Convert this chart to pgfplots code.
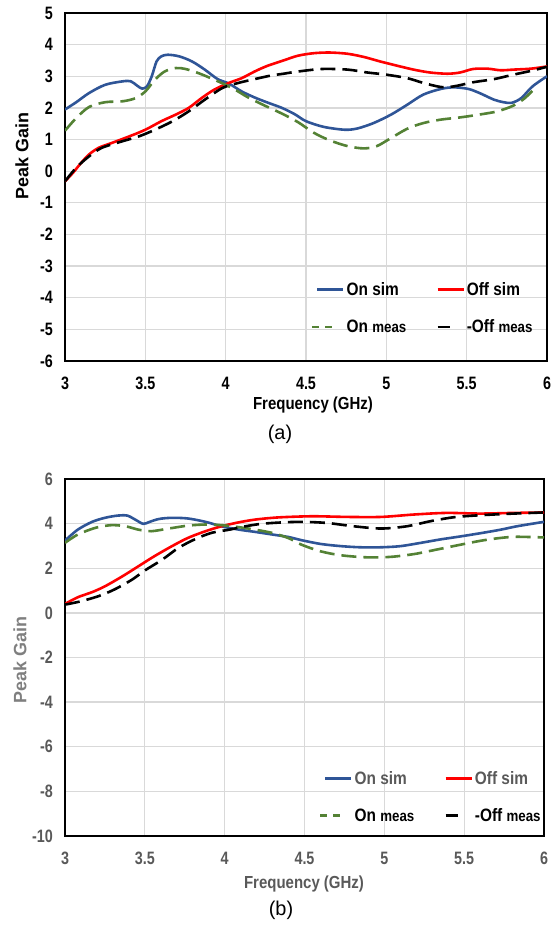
\documentclass[border=0pt]{standalone}
\usepackage{pgfplots}
\pgfplotsset{compat=1.18}
\usepackage{fontspec}
\setmainfont{Liberation Sans}
\newfontfamily\nb[FakeStretch=0.86]{Liberation Sans}
\newfontfamily\nn[FakeStretch=0.8]{Liberation Sans}
\definecolor{cblue}{HTML}{2F5597}
\definecolor{cred}{HTML}{FF0000}
\definecolor{cgreen}{HTML}{548235}
\definecolor{cgray}{HTML}{595959}
\definecolor{cgray2}{HTML}{7F7F7F}
\definecolor{gridc}{HTML}{D9D9D9}

\pgfplotsset{
 common/.style={
  scale only axis,
  xmin=3, xmax=6,
  xtick={3,3.5,4,4.5,5,5.5,6},
  grid=major,
  major grid style={gridc, line width=1.3bp},
  major tick length=0pt,
  axis line style={black, line width=1.6bp},
  /pgf/number format/assume math mode=true,
  ticklabel style={font=\nn\bfseries\fontsize{18}{18}\selectfont, inner sep=0pt},
  xticklabel style={yshift=-16bp},
  yticklabel style={xshift=-12bp},
  legend cell align=left,
  legend columns=2,
  legend style={draw=none, fill=none, inner sep=0pt,
    font=\nb\bfseries\fontsize{18}{18}\selectfont,
    row sep=19bp,
    /tikz/every even column/.append style={column sep=28bp}},
 },
 lin/.style={line width=2.6bp, smooth, tension=0.5},
 dsh/.style={dash pattern=on 15bp off 7bp},
}

\begin{document}
\begin{tikzpicture}
\path[use as bounding box] (0bp,0bp) rectangle (558bp,926bp);

% ---------- (a) ----------
\begin{axis}[common,
  at={(65bp,565bp)}, anchor=south west,
  width=482bp, height=348bp,
  ymin=-6, ymax=5, ytick={-6,-5,...,5},
  legend style={at={(rel axis cs:0.51,0.232)}, anchor=north west},
]
\addplot[lin, cblue, legend image code/.code={\draw[cblue, line width=2.6bp] (0,0)--(26bp,0);}] coordinates {
(3.0,1.95)(3.07,2.18)(3.15,2.47)(3.25,2.73)(3.36,2.84)(3.41,2.84)(3.45,2.70)(3.48,2.61)(3.51,2.68)(3.54,3.0)(3.57,3.47)(3.60,3.63)(3.64,3.68)(3.71,3.63)(3.79,3.47)(3.87,3.21)(3.95,2.91)(4.02,2.77)(4.10,2.52)(4.18,2.33)(4.26,2.17)(4.35,2.0)(4.43,1.8)(4.5,1.58)(4.61,1.40)(4.74,1.31)(4.82,1.35)(4.92,1.52)(5.03,1.79)(5.13,2.10)(5.23,2.42)(5.34,2.60)(5.42,2.65)(5.51,2.60)(5.58,2.47)(5.67,2.26)(5.73,2.18)(5.78,2.16)(5.84,2.31)(5.91,2.68)(6.0,3.0)};
\addlegendentry{On sim}
\addplot[lin, cred, legend image code/.code={\draw[cred, line width=2.6bp] (0,0)--(26bp,0);}] coordinates {
(3.0,-0.32)(3.05,-0.05)(3.10,0.26)(3.15,0.53)(3.21,0.74)(3.29,0.89)(3.40,1.10)(3.50,1.31)(3.60,1.58)(3.69,1.79)(3.77,2.00)(3.85,2.31)(3.93,2.58)(4.02,2.79)(4.10,2.94)(4.18,3.15)(4.26,3.33)(4.36,3.50)(4.45,3.65)(4.55,3.73)(4.65,3.75)(4.76,3.71)(4.86,3.61)(4.96,3.47)(5.07,3.33)(5.17,3.21)(5.27,3.12)(5.38,3.08)(5.46,3.12)(5.54,3.23)(5.63,3.24)(5.71,3.19)(5.79,3.21)(5.9,3.24)(6.0,3.31)};
\addlegendentry{Off sim}
\addplot[lin, dsh, cgreen, legend image code/.code={\draw[cgreen, line width=2.6bp, dash pattern=on 7bp off 6bp] (-5bp,0)--(15bp,0);}] coordinates {
(3.0,1.28)(3.07,1.68)(3.15,2.03)(3.25,2.18)(3.36,2.21)(3.44,2.31)(3.50,2.52)(3.56,2.89)(3.62,3.15)(3.69,3.26)(3.75,3.23)(3.83,3.10)(3.93,2.89)(4.04,2.63)(4.14,2.33)(4.24,2.08)(4.35,1.82)(4.45,1.55)(4.55,1.21)(4.65,0.97)(4.76,0.79)(4.86,0.72)(4.94,0.79)(5.03,1.05)(5.13,1.34)(5.23,1.52)(5.34,1.63)(5.46,1.70)(5.58,1.79)(5.69,1.89)(5.79,2.07)(5.86,2.3)(5.92,2.6)};
\addlegendentry{On {\fontsize{15.5}{15.5}\selectfont meas}}
\addplot[lin, dsh, black, legend image code/.code={\draw[black, line width=2.6bp] (0,0)--(12bp,0);}] coordinates {
(3.0,-0.32)(3.07,0.11)(3.15,0.47)(3.23,0.74)(3.36,0.95)(3.46,1.10)(3.56,1.31)(3.67,1.58)(3.77,1.89)(3.87,2.26)(3.98,2.63)(4.08,2.79)(4.18,2.91)(4.28,3.02)(4.36,3.08)(4.45,3.15)(4.60,3.23)(4.76,3.21)(4.88,3.12)(5.0,3.05)(5.13,2.94)(5.23,2.79)(5.34,2.66)(5.42,2.68)(5.54,2.81)(5.67,2.91)(5.79,3.05)(5.9,3.17)(6.0,3.3)};
\addlegendentry{-Off {\fontsize{15.5}{15.5}\selectfont meas}}
\end{axis}
\node[rotate=90, font=\bfseries\fontsize{18}{18}\selectfont] at (22bp,770bp) {Peak Gain};
\node[font=\nb\bfseries\fontsize{17.5}{17.5}\selectfont] at (313bp,521bp) {Frequency (GHz)};
\node[font=\fontsize{20}{20}\selectfont] at (280bp,492bp) {(a)};

% ---------- (b) ----------
\begin{axis}[common,
  at={(65bp,90bp)}, anchor=south west,
  width=479bp, height=357bp,
  ymin=-10, ymax=6, ytick={-10,-8,...,6},
  ticklabel style={text=cgray},
  legend style={at={(rel axis cs:0.53,0.188)}, anchor=north west},
]
\addplot[lin, cblue, legend image code/.code={\draw[cblue, line width=2.6bp] (0,0)--(26bp,0);}] coordinates {
(3.0,3.24)(3.08,3.73)(3.17,4.08)(3.25,4.26)(3.33,4.36)(3.39,4.36)(3.44,4.18)(3.49,3.99)(3.53,4.08)(3.59,4.21)(3.67,4.26)(3.77,4.23)(3.88,4.08)(3.98,3.88)(4.09,3.73)(4.19,3.63)(4.30,3.51)(4.40,3.40)(4.48,3.26)(4.60,3.09)(4.73,2.99)(4.85,2.94)(4.98,2.94)(5.10,2.99)(5.23,3.14)(5.35,3.29)(5.48,3.43)(5.61,3.58)(5.73,3.73)(5.83,3.88)(6.0,4.08)};
\addlegendentry{\textcolor{cgray}{On sim}}
\addplot[lin, cred, legend image code/.code={\draw[cred, line width=2.6bp] (0,0)--(26bp,0);}] coordinates {
(3.0,0.40)(3.08,0.70)(3.17,0.93)(3.25,1.19)(3.36,1.64)(3.46,2.09)(3.56,2.54)(3.67,2.99)(3.77,3.36)(3.88,3.66)(3.98,3.88)(4.09,4.06)(4.19,4.18)(4.30,4.26)(4.40,4.30)(4.56,4.33)(4.77,4.30)(4.98,4.30)(5.19,4.41)(5.39,4.48)(5.60,4.45)(5.81,4.48)(6.0,4.5)};
\addlegendentry{\textcolor{cgray}{Off sim}}
\addplot[lin, dsh, cgreen, legend image code/.code={\draw[cgreen, line width=2.6bp, dash pattern=on 7bp off 6bp] (-5bp,0)--(15bp,0);}] coordinates {
(3.0,3.14)(3.08,3.51)(3.19,3.81)(3.29,3.93)(3.38,3.88)(3.46,3.73)(3.54,3.66)(3.65,3.78)(3.77,3.91)(3.88,3.96)(3.98,3.93)(4.09,3.84)(4.19,3.73)(4.30,3.58)(4.40,3.35)(4.48,3.06)(4.60,2.76)(4.73,2.58)(4.89,2.49)(5.04,2.51)(5.19,2.64)(5.33,2.84)(5.48,3.06)(5.61,3.24)(5.73,3.36)(5.83,3.41)(6.0,3.38)};
\addlegendentry{On {\fontsize{15.5}{15.5}\selectfont meas}}
\addplot[lin, dsh, black, legend image code/.code={\draw[black, line width=2.6bp] (0,0)--(12bp,0);}] coordinates {
(3.0,0.37)(3.10,0.52)(3.21,0.75)(3.31,1.05)(3.42,1.49)(3.50,1.90)(3.61,2.39)(3.71,2.91)(3.82,3.32)(3.92,3.59)(4.03,3.73)(4.13,3.88)(4.23,3.99)(4.35,4.05)(4.48,4.08)(4.64,4.03)(4.81,3.88)(4.98,3.78)(5.14,3.88)(5.29,4.11)(5.44,4.29)(5.61,4.38)(5.81,4.45)(6.0,4.5)};
\addlegendentry{-Off {\fontsize{15.5}{15.5}\selectfont meas}}
\end{axis}
\node[rotate=90, font=\bfseries\fontsize{18}{18}\selectfont, text=cgray2] at (20bp,266bp) {Peak Gain};
\node[font=\nb\bfseries\fontsize{17.5}{17.5}\selectfont, text=cgray] at (304bp,42bp) {Frequency (GHz)};
\node[font=\fontsize{20}{20}\selectfont] at (281bp,15.5bp) {(b)};
\end{tikzpicture}
\end{document}
